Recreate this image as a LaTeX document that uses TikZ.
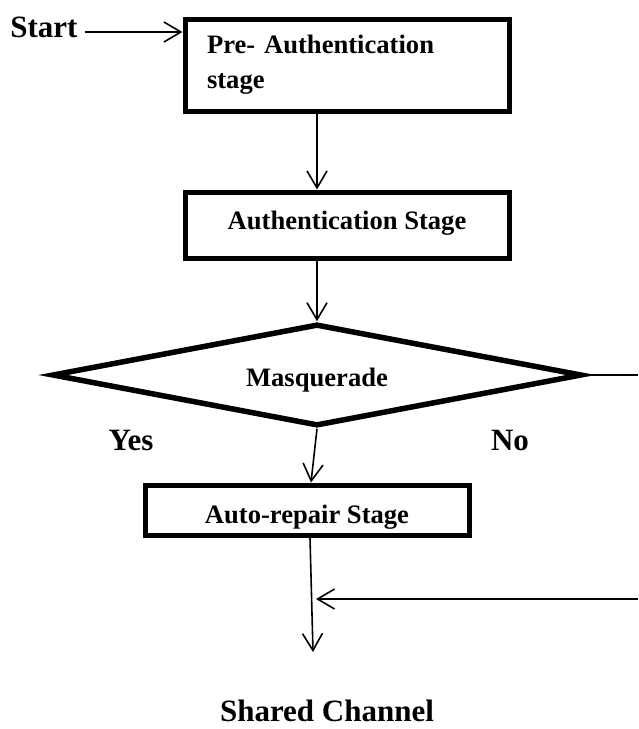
\documentclass[tikz,border=0pt]{standalone}
\usepackage{fontspec}
\setmainfont{Liberation Serif}
\usetikzlibrary{arrows.meta,shapes.geometric}
\begin{document}
\begin{tikzpicture}[x=1pt,y=-1pt,
 boxst/.style={draw, line width=5pt, rectangle, inner sep=0pt, font=\fontsize{26.6}{35}\selectfont\bfseries},
 conn/.style={line width=1.6pt, -{Straight Barb[length=17pt,width=20pt,line width=1.6pt]}},
 plainln/.style={line width=1.6pt},
 bigtxt/.style={font=\fontsize{31}{37}\selectfont\bfseries, inner sep=0pt, anchor=base}]
\useasboundingbox (0,0) rectangle (638,729);

\node[boxst, minimum width=324pt, minimum height=92pt, text width=280pt, align=left] (pre) at (347,65) {Pre- Authentication\\stage};
\node[boxst, minimum width=324pt, minimum height=66pt, text height=18pt, text depth=10pt] (auth) at (347,225) {Authentication Stage};
\node[draw, diamond, aspect=5.2, line width=5.5pt, minimum width=530pt, minimum height=102pt, inner sep=0pt,
      font=\fontsize{26.6}{34}\selectfont\bfseries, text height=22pt, text depth=0pt] (mask) at (317,375) {Masquerade};
\node[boxst, minimum width=324pt, minimum height=50pt, text height=26pt, text depth=0pt] (auto) at (307,510) {Auto-repair Stage};

\node[bigtxt] (start) at (44,37) {Start};
\node[bigtxt] (yes) at (131,450) {Yes};
\node[bigtxt] (no) at (510,450) {No};
\node[bigtxt] (shared) at (327,721) {Shared Channel};

\coordinate (endpt) at (313,652);
\coordinate (r1) at (638,375);
\coordinate (r2) at (638,599);
\coordinate (merge) at (316,599);

\draw[conn] ([xshift=7pt,yshift=5pt]start.base east) -- ([yshift=5pt]start.base east -| pre.west);
\draw[conn] (pre.south -| mask.north) -- (auth.north -| mask.north);
\draw[conn] (auth.south -| mask.north) -- (mask.north);
\draw[conn] (mask.south) -- ([xshift=4pt]auto.north);
\draw[conn] ([xshift=3pt]auto.south) -- (endpt);
\draw[plainln] (mask.east) -- (r1);
\draw[conn] (r2) -- (merge);
\end{tikzpicture}
\end{document}
